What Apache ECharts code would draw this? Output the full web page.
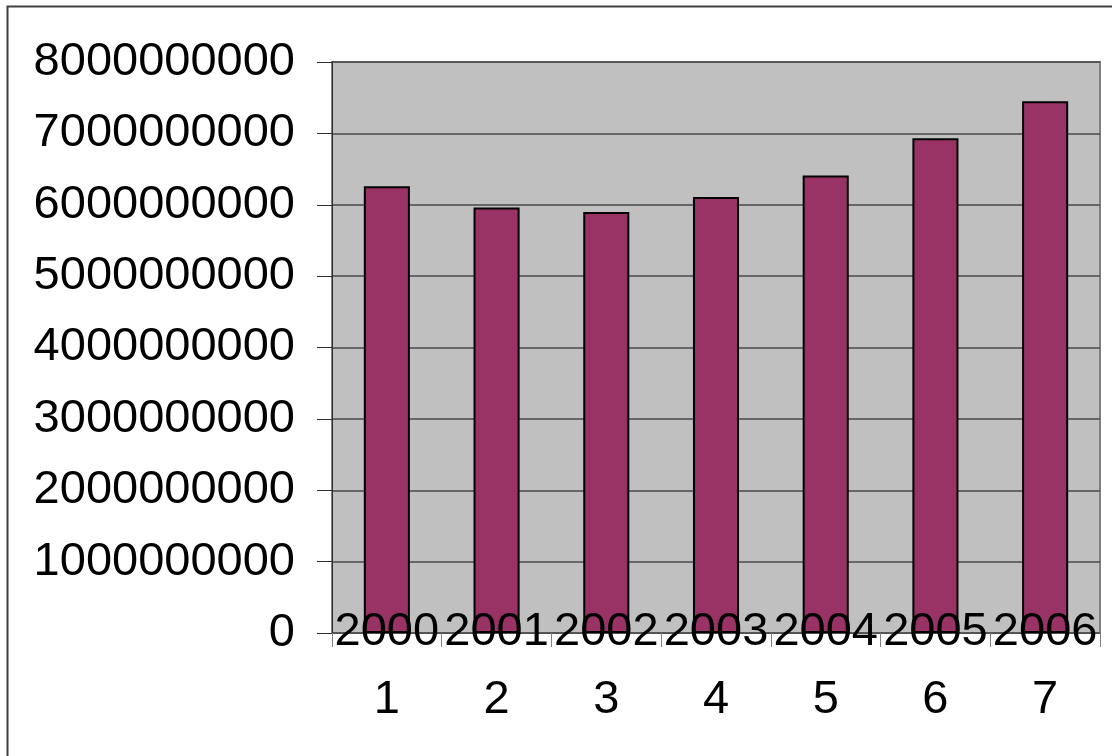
<!DOCTYPE html>
<html>
<head>
<meta charset="utf-8">
<script src="https://cdn.jsdelivr.net/npm/echarts@6/dist/echarts.min.js"></script>
<style>
  html, body { margin: 0; padding: 0; background: #fff; }
  #chart { width: 1112px; height: 756px; }
</style>
</head>
<body>
<div id="chart"></div>
<script>
// Data
const categories = ['1', '2', '3', '4', '5', '6', '7']
const years = ['2000', '2001', '2002', '2003', '2004', '2005', '2006']
const values = [6260000000, 5960000000, 5900000000, 6110000000, 6410000000, 6930000000, 7450000000]

const FONT = "'Liberation Sans', Arial, sans-serif"

const chart = echarts.init(document.getElementById('chart'))

chart.setOption({
  animation: false,
  backgroundColor: '#ffffff',
  graphic: [
    {
      type: 'rect',
      left: 5,
      top: 4,
      shape: { width: 1200, height: 800 },
      style: { fill: 'none', stroke: '#404040', lineWidth: 2 },
      z: 0
    }
  ],
  grid: {
    left: 332,
    top: 62,
    right: 12,
    bottom: 123,
    show: true,
    backgroundColor: '#c0c0c0',
    borderColor: '#808080',
    borderWidth: 2
  },
  xAxis: [
    {
      type: 'category',
      data: categories,
      position: 'bottom',
      axisLine: { show: true, lineStyle: { color: '#505050', width: 1 } },
      axisTick: { show: true, length: 14, lineStyle: { color: '#808080', width: 1 } },
      axisLabel: {
        interval: 0,
        margin: 44,
        fontSize: 47,
        fontFamily: FONT,
        color: '#000'
      }
    },
    {
      type: 'category',
      data: years,
      position: 'bottom',
      z: 10,
      axisLine: { show: false },
      axisTick: { show: false },
      axisLabel: {
        interval: 0,
        hideOverlap: false,
        margin: -24,
        fontSize: 47,
        fontFamily: FONT,
        color: '#000'
      }
    }
  ],
  yAxis: {
    type: 'value',
    min: 0,
    max: 8000000000,
    interval: 1000000000,
    axisLine: { show: true, lineStyle: { color: '#303030', width: 1 } },
    axisTick: { show: true, length: 15, lineStyle: { color: '#303030', width: 1 } },
    axisLabel: {
      margin: 37,
      fontSize: 47,
      fontFamily: FONT,
      color: '#000',
      formatter: v => String(v)
    },
    splitLine: { show: true, lineStyle: { color: '#4a4a4a', width: 1.5 } }
  },
  series: [
    {
      type: 'bar',
      data: values,
      barWidth: '42%',
      itemStyle: { color: '#993366', borderColor: '#000', borderWidth: 2 }
    }
  ]
})
</script>
</body>
</html>
